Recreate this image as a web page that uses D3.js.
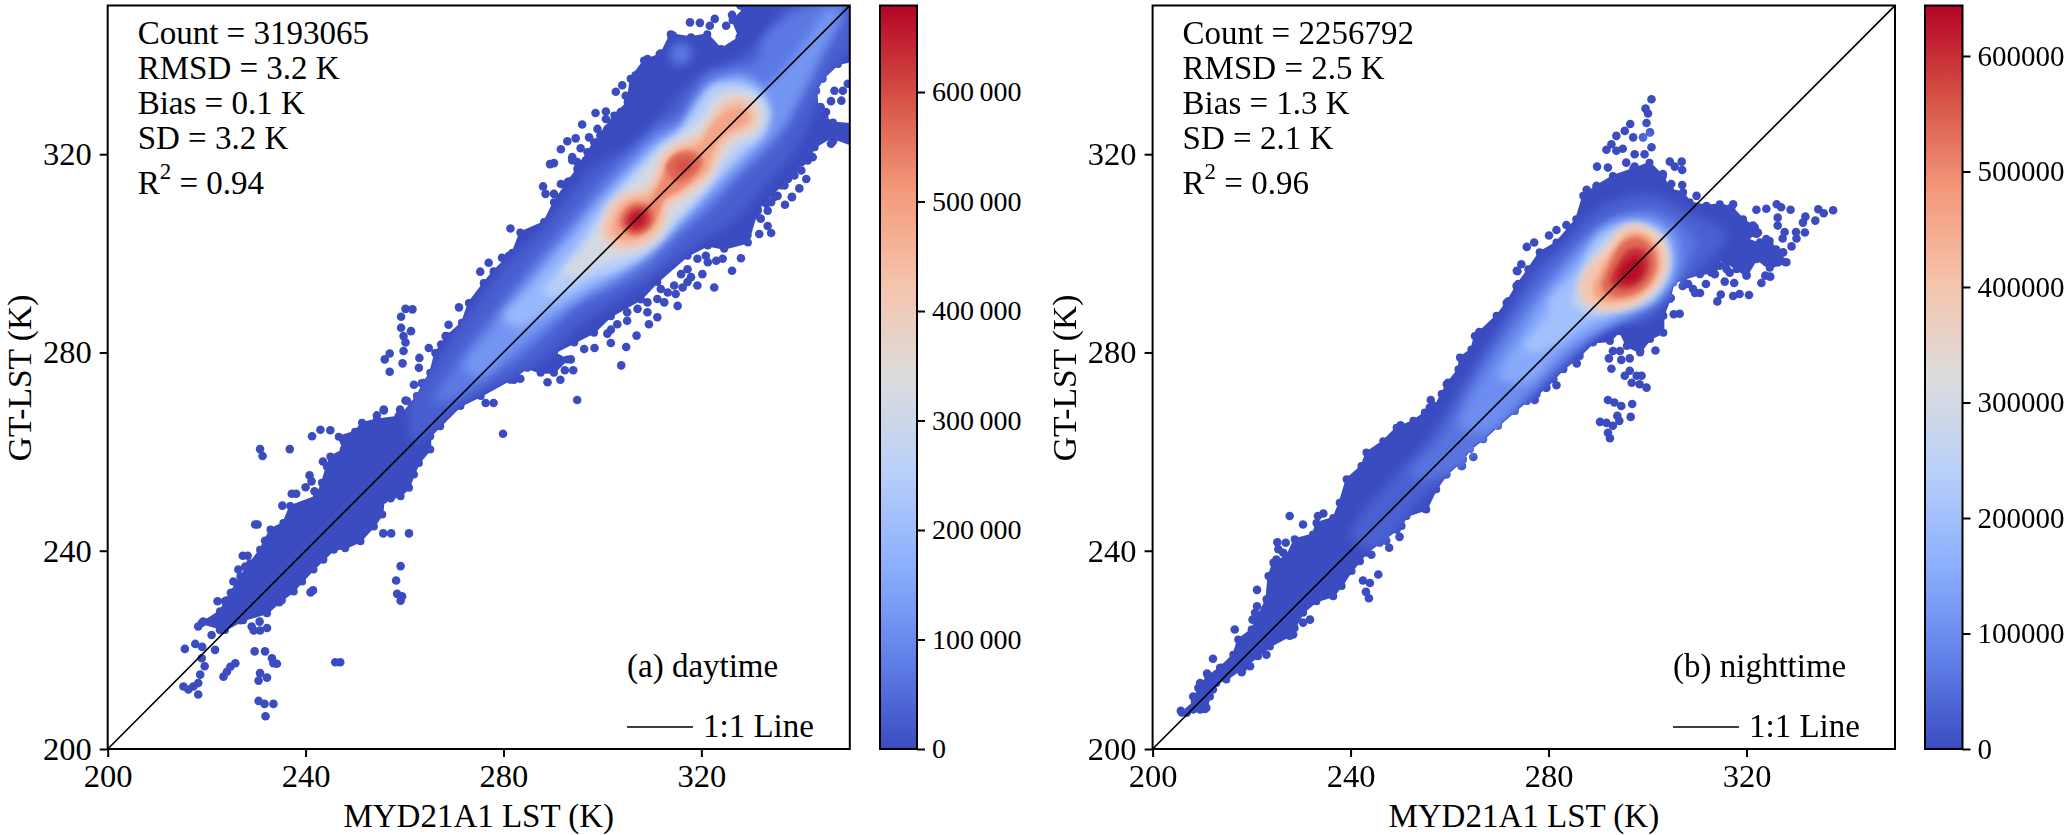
<!DOCTYPE html>
<html>
<head>
<meta charset="utf-8">
<script src="https://cdnjs.cloudflare.com/ajax/libs/d3/7.8.5/d3.min.js"></script>
<style>
  html, body { margin: 0; padding: 0; background: #fff; }
  svg { display: block; }
  text { font-family: "Liberation Serif", serif; fill: #000; }
</style>
</head>
<body>
<div id="main"></div>
<script>
// everything below is in kelvin
const axisTicks = [200, 240, 280, 320];
const oneToOne = [200, 350];
const barTicks = [0, 100000, 200000, 300000, 400000, 500000, 600000];
const coolwarmStops = ['#3b4cc0', '#6282ea', '#8db0fe', '#b9d0f9', '#dddcdc', '#f5c4ac', '#f49a7b', '#d65244', '#b40426'];

const dayStats = ['Count = 3193065', 'RMSD = 3.2 K', 'Bias = 0.1 K', 'SD = 3.2 K', '0.94'];
const nightStats = ['Count = 2256792', 'RMSD = 2.5 K', 'Bias = 1.3 K', 'SD = 2.1 K', '0.96'];

const dayOutline = [[219,225.4],[222.7,227.8],[224,230],[226.8,234.8],[228.8,237.5],[230.8,240.2],[232.9,244.3],[235.5,245.6],[236.9,249],[242.3,251],[243.3,253.7],[244.3,257],[245,259],[247.7,260.4],[246.7,263],[250,264],[251.4,265.8],[254.4,266.5],[259.2,267.1],[262.5,271.2],[263.9,273.9],[265.2,275.9],[266.2,279.9],[268.6,283.3],[271.6,286],[273,290],[276,294],[278,296.4],[281.8,300.1],[283.4,304.2],[288.2,306.3],[290.2,310.3],[292.9,314.3],[294.9,317],[298.3,322.4],[302.4,327.8],[305.1,330.5],[305.7,335.2],[308.4,338.9],[311.8,340.2],[313.8,344.2],[317.9,343.6],[321.2,344.2],[324,341.2],[327.7,343.6],[326.3,347],[328.7,349.3],[330.7,351],[351,351],[351,338.9],[347.6,338.2],[344.5,335.2],[343.2,332.8],[343.5,329.4],[344.9,327.4],[346.6,326.4],[351,326],[351,321.7],[346.2,323.4],[342.9,321.4],[341.5,318.7],[338.8,317],[336.1,313.7],[331.4,309],[329.4,302.2],[324.6,300.9],[321.3,301.6],[317.2,299.5],[311.1,294.2],[307.8,290.7],[301.7,287.3],[298.3,284],[294.3,282],[290.2,279.9],[292.9,278.6],[290.2,275.9],[287.5,275.9],[284.8,276.9],[281.4,274.5],[275.4,271.2],[271.3,269.2],[267.2,265.1],[265.2,263.1],[265.2,260.4],[262.9,257.7],[261.9,255.4],[260.9,252.7],[259.2,251],[255.8,250.3],[255.5,247.3],[253.8,244.9],[251.1,241.9],[248,240.5],[245.7,240.2],[243.6,238.2],[241.6,236.2],[239.3,233.8],[237.6,231.8],[235.2,230],[232.2,227.4],[227.4,226],[223.7,224]];

const dayDots = [[230.8,260.5],[231.3,259.1],[236.8,260.5],[241.3,263.1],[243,264.4],[245,264.3],[243.5,258],[240.8,255.2],[241.2,254],[240,252.8],[241.8,252],[237.2,251.5],[238.1,251.5],[235.3,249.1],[229.8,245.3],[230.3,245.3],[231.8,242],[227.3,239],[228.3,239],[225.4,233.8],[224.9,231.5],[222.2,229.8],[223.7,229.8],
[218.3,224.7],[219.3,225.7],[220.7,225.7],[222,225.7],[223.4,225.7],[221,223],[222.7,224],[226.8,226],[229.1,224.7],[229.5,223.9],[230.8,223.9],[232.2,224.4],[230.7,225.7],
[215.6,220.2],[217.7,221.2],[219.1,220.6],[221.7,220],[229.7,219.7],[231.8,219.7],[233.2,218.3],[234.2,217.2],[233.5,217.3],
[219,218.3],[219.6,216.7],[218.7,215],[218.3,213.3],[215.3,212.6],[216.3,212],[217.3,212.6],[218.3,211],[225.8,217.3],[224.8,216.6],[224.1,215.6],[223.4,214.6],[230.8,215.3],[232.2,214.4],[230.5,213.8],[246,217.5],[247,217.5],[230.5,209.7],[231.7,209.1],[233.5,209.1],[231.9,206.6],
[255.7,243.5],[257.3,243.5],[260.9,243.5],[259.2,236.9],[258.3,234],[258.5,231.3],[259.5,230.8],[259.2,229.9],[241,231.6],[241.5,232],
[255.8,268.5],[254.4,267.3],[259.2,268.1],[258.8,266.5],[260.5,270.2],[257.2,250.6],[253.4,245],[234.7,229.6],[226.4,236.2],[227.8,236.8],
[260.2,288.8],[261.6,288.7],[259.3,287.2],[259.3,285],[261.3,284.3],[259.8,283.3],[260.2,282],[259.8,280.3],[257,279.8],[256,278.6],[257,276.1],[259.6,277.8],[263,278.9],[262.9,276.9],[264.9,280.9],[261.9,273.5],[263.5,273.8],[260.2,270.3],[255.8,268.3],[259.1,268.5],[258.8,267.1],[261.2,268.1],
[271,289.1],[268.9,285.6],[268.3,283.3],[267.4,281.6],[275.3,296.3],[277,298.1],[279.7,299.1],[281.1,299.5],
[276.4,269.8],[278,269.8],[279.9,263.6],[294.9,270.4],[303.8,277.4],[304.8,281.1],[306.9,283.4],[301.7,281.9],[301,283.8],[301.7,284.6],[298.4,280.9],[296.3,280.7],[294.1,276.4],[292.4,276.4],[290.5,277.6],[293.6,278.6],[291.5,274.5],[288.9,274],[283.4,274.7],[282.1,274.5],
[281.4,305],[288,313.5],[288.5,312],[290.2,312],[291.6,314],[293.2,314.5],[289.4,318],[290.2,318.2],[291.6,321],[292.9,322.6],[293.9,319.4],[293.9,318.8],[295.6,321.2],[295.9,326],[299,325.1],[294.6,323.2],[297.3,323.4],[298.6,328.3],[300.7,328.6],[300.7,327.1],[302.7,332.6],[304,333.9],[303.7,328.5],[306.7,335.9],[309.1,339.2],[311.8,340.3],[310.8,338.2],[312.5,339.6],[314.2,344],
[294.9,318.4],[297,320.4],[298.3,321],[296.6,318.7],[299.6,323.8],[301,325.1],[302.4,326.5],[303.7,327.1],[305,327.8],[306.4,331.8],[307.7,335.2],[305.4,329.1],[304.7,331.8],
[322.6,293.1],[326.2,296.5],[328,299],[320.2,295.8],[320.9,299.5],[323,298.5],[324.3,298.9],[319.2,293.5],[317.2,294.2],[316.2,293.1],[317.9,295.2],[315.2,289.4],[312.5,290.1],[314.8,291.8],[311.8,292.8],[309.1,288.1],[311.1,287.1],[309.4,285.7],[305,286.4],[303,285.7],[336.9,309.8],[338.3,311.3],[333.4,305.5],[334.1,304.1],[331.7,303.9],[333.1,310],[331.4,308.6],[340.2,316.7],[341.2,315],[339.8,313.1],[336.8,313.7],[342.5,319.4],[346.2,322.1],
[326.7,304.9],[328,306.3],[329.3,307],[330.7,307.6],[326.7,302.2],[329.3,303.6],[332,307],[333.4,308.6],[335.4,311.6],[337.5,315],[340.2,318.4],[338.8,315.7],[334.1,310.3],[319.2,298.9],[321.3,298.2],[317.2,296.8],[315.9,295.8],[313.2,292.1],[314.5,293.5],[311.1,290.8],[309.1,290.1],[307.1,288.8],[305,288.1],
[346.9,332.8],[348.6,332.8],[346.2,330.7],[348.3,330.8],[345.2,328.5],[344.1,329.5],[349.6,334.2],[317.7,346.6],[319.7,346.5],[322.7,347.3],[321.7,345.9],[326.2,348.1],[325,345.9],[327.9,350],[314,343.7],[311.6,340.2],[309,339],[346.6,322.6],[338.3,311.4],[334.8,311.4]];

const dayRings = [
  [30000, [[262,262],[261,269],[267,279],[274,289],[280,297],[287,304],[292,310],[298,317],[306,322],[312,328],[318,334.5],[326,338.5],[332,343],[338,350],[351,351],[351,343],[347,337],[343,329],[339,321],[333,314],[327,307],[319,302],[311,296],[304,291],[296,286],[288,278.5],[280,274],[272,270],[266,265]]],
  [70000, [[313.8,339],[314.5,342],[317,342.3],[318,340],[316,338]]],
  [70000, [[266,270],[272,280],[279,289],[286,298],[291,304],[296,310],[302,317],[307.7,322],[311.1,325.4],[315.8,328.1],[319.2,333.5],[321.2,336.2],[326.6,337.5],[331.4,338.9],[332.7,343.6],[340,349],[349,351],[348.2,346.9],[344.2,338.9],[340.8,332.1],[336.8,325.4],[332.7,320],[328,316],[322,309],[316,304],[309,297],[302,293],[294,289],[286,281],[278,275.5],[271,271]]],
  [120000, [[272,277],[277,284],[283,292],[288,298],[294,304.5],[300,312],[305,317.5],[311,323.4],[316,326],[319,331],[323,335],[329,336],[332.5,334],[336,336.5],[341,343],[345.5,349],[348,349],[344,340],[340,332],[336,325],[331,320],[326,315],[320,309],[312,302],[304,295.5],[296,291],[288,285],[281,279.5],[275,275]]],
  [190000, [[280,287],[285,293],[290,299],[295,305],[300,311],[305,316],[311,322],[315.8,325],[319,330],[323,334],[329,335],[333,331],[333,325],[328.7,319.5],[324,315],[319,310],[313,304],[307,298.5],[301,295],[295,291.5],[288,287.5],[283,285]]],
  [250000, [[288,292],[292,297.5],[296,303],[300,309],[305,315],[311.8,322],[315.8,325],[319.2,330],[322.6,334],[330,333.5],[333.8,329.4],[332.7,324.1],[328.7,320.7],[324.6,316.6],[321.2,312.6],[315,306],[310,300.5],[304,297],[297,294.5],[291,291.5]]],
  [320000, [[292,296],[296,301],[299,305.5],[303,311],[308,316.5],[312,321],[316,323.8],[320,327.5],[323.5,332],[330,332.3],[333,328],[331,324],[327,321.7],[324,318],[320.5,313],[315,307.5],[311.5,303],[306,299.8],[300,298],[295,295.5]]],
  [390000, [[299.7,303.6],[300.3,307],[302,310.3],[305.1,312.3],[308.4,313],[310.5,315.7],[311.8,319.7],[315.2,322.4],[319.2,323.8],[321.6,327.1],[323.3,329.8],[326.7,331.8],[330,330.8],[331.7,327.8],[330.7,325.1],[328,323.8],[325.3,322.4],[323.3,319.1],[322.6,317],[319.9,313.7],[315.9,311],[313.8,309.6],[312.5,305.6],[310.4,302.9],[306.4,300.9],[302.4,301.2]]],
  [440000, [[300.7,304],[301.3,307],[303,309.8],[305.6,311.6],[308.6,312.2],[311,315],[312.5,319],[315.6,321.7],[319.4,323],[322,326.3],[323.8,329],[326.9,330.8],[329.5,330],[330.8,327.8],[329.8,325.7],[327.6,324.6],[324.6,322.8],[322.7,319],[322,317],[319.4,314.4],[315.5,311.7],[313,310],[311.8,306],[310,303.6],[306.4,301.8],[303,302]]],
  [490000, [[302,304.5],[302.5,307],[304,309.5],[306,310.8],[309,311.3],[311.5,314.5],[313.3,318.5],[316,320.8],[319.4,322],[321.6,325.3],[324,327.8],[327,329.3],[329.2,328.8],[329.8,327.2],[328,325.6],[324.6,323.8],[322,319.6],[321.2,317],[318.8,314.8],[315,312.4],[312.4,310.6],[311,306.2],[309,304],[306,302.8],[303.5,303]]],
  [530000, [[303.3,305.5],[304,308],[306,309.8],[309,310],[311.5,313.5],[313,317],[314.8,320],[318,320.8],[320.3,319.5],[319.5,316.5],[316,313],[312.5,311],[310.8,307],[308.8,304.8],[306,303.8]]],
  [570000, [[303.8,306],[304.6,308.6],[306.8,310],[309.6,309.4],[310.4,307],[308.4,304.2],[305.8,303.8]]],
  [570000, [[312.8,317.3],[314.6,319.8],[318,320.3],[320,318.6],[318,315.6],[314.8,314.4]]],
  [590000, [[314.5,317.7],[316,319],[318,319],[318,317],[316,316]]],
  [620000, [[304.6,306.3],[306,308.8],[308.8,308.9],[309.6,306.7],[308,304.8],[305.8,304.6]]],
  [660000, [[305.3,306.4],[306.8,308.3],[308.6,307.8],[308,305.8],[306.3,305.3]]]
];

const nightOutline = [[205.9,207.3],[208.5,209.6],[209.2,212.3],[211.2,214.7],[213.6,216.4],[216.3,219],[217.3,222.1],[220,224.1],[221.3,226.8],[223,230.2],[223.4,234.9],[224.4,237.6],[227.1,238.9],[228.7,242.3],[232.4,243.3],[233.1,245.6],[236.5,246.6],[237.8,249.7],[239.2,254.4],[242.2,257.1],[243.2,259.8],[246.6,262.1],[249.3,264.8],[252.7,266.2],[255,267.9],[257.1,269.2],[258.4,271.6],[259.4,273.6],[261.8,276.6],[262.1,279],[264.4,280.6],[265.1,283.3],[269.5,287.4],[271.5,290],[273.5,293.4],[275.9,296.8],[278.2,300.2],[281.6,302.2],[285.6,306.9],[287,311.6],[289.7,313.6],[293,315.6],[297.1,317],[300.4,318.3],[303.1,315.6],[304.5,312.9],[307.2,312.3],[308.5,310.3],[311.9,309.6],[314.6,309.9],[317,309.3],[319.3,306.9],[321.7,305.2],[322,303.9],[320,302.9],[322.7,301.9],[324.7,302.5],[326,300.8],[328.1,298.2],[324.7,297.1],[322,298.8],[320,295.5],[318,296.8],[316,298.2],[314,298.8],[312.9,296.1],[310.6,295.8],[307.2,294.8],[305.2,294.1],[304.5,290.8],[303.2,287.4],[303.2,284],[300.5,282.7],[298.5,280],[295.8,281.3],[294.4,284.3],[292.4,282.3],[289,282],[286.3,279.3],[283,276.6],[281,274.6],[279.6,272.9],[277.6,271.6],[275.6,270.2],[273.2,268.2],[269.8,265.2],[266.8,262.5],[264.1,260.5],[262.7,258.4],[259.4,255.4],[257.3,252.4],[255.3,248.3],[251.3,247],[250.3,245],[245.9,241.6],[243.2,239.6],[241.9,237.9],[240.2,235.9],[238.2,232.9],[236.5,230.8],[233.1,229.8],[230.4,227.5],[228.7,224.4],[227.7,222.8],[223.7,220.7],[221.3,218.7],[218.3,216.4],[214.9,214],[212.9,213.3],[211.6,210.6],[210.9,208.3]];

const nightDots = [[205.7,207.7],[206.9,207.3],[208.2,208],[209.6,208],[210.6,208.1],[208.2,210.6],[209.6,213.3],[211,215.2],[212.2,218.2],[216.6,224.1],[221.1,232.1],[227.7,247],[230.4,245.3],[233.4,247],[234.5,247.5],[225.2,241.7],[226.9,241.6],[225.4,240.3],[226.4,239.6],[225,238.2],[221.1,228.8],[220.7,227.5],[220.2,226.1],[212.2,212],[210.2,212],[213.9,216.4],[218,215.5],[219.7,216.7],[223,219],[228.4,223.1],[231.8,226.1],[230.4,225.5],
[242.5,234],[243.9,233.5],[245.6,235.2],[243.1,231.7],[243.7,230.4],[244.2,239.2],[247.8,240.6],[247.2,242],[249.9,242.8],[249.3,244.3],[255,248.5],[262.5,257.1],[259,255.4],
[256.2,270.4],[256,268.9],[250.1,265.3],[259.7,273.9],[262.4,278.8],[266,284.1],[271.9,290.3],[273.7,296.4],[273.9,293.8],[262.4,257.1],[264.8,258.9],[277.2,270.4],[279.5,272.9],[281.6,273.4],[285.7,277.8],
[292.7,276.7],[292.2,278.8],[293,280.3],[294.4,280.3],[294.7,278.5],[296.4,278.8],[295.4,275.3],[296.8,273.9],[297.8,275.3],[296.4,276.3],[298.4,273.6],[292,270.4],[293.3,269.9],[294.7,269.2],[296.9,269.6],[296.6,267],[290.4,266],[291.7,265.8],[293.9,267.2],[294.3,266.2],[293,265.2],[292,263.8],[292.4,262.7],[298.8,275.3],[299.8,272.9],[301.6,280.4],[298.5,280.3],[306.5,287.8],[305.3,287.7],[304.7,291],[309.6,292],[310.6,292],[311.8,293.8],[309.2,292.8],[307.1,293.4],[308.2,293.8],
[314.1,290.3],[314.8,291.7],[317.3,291.4],[318.6,291.8],[320.5,291.6],[317.5,294],[315.6,294.3],[313.6,295.8],[316.6,296.1],[320,295.6],[323,294],[323.8,295.5],[324.8,295.3],[327.9,298.2],[326.4,298.2],[324.7,297.5],[327.4,300.2],[329.1,301.4],[330.1,303],[330,304.3],[331.8,304.2],[327.3,303],[327.7,304.3],[326.3,305.6],[326.3,307.2],[326.1,309.9],[328.9,308.8],[324,309],[322,308.8],[327,309.3],[331.4,306.2],[331.9,307.4],[333.9,306.6],[334.5,308.9],[335.6,308.1],[337.5,308.7],[317.3,309.9],[322.3,304.2],[321.3,305.6],[324,302.9],[322.7,302.2],[326.1,300.5],[309.9,311.6],
[320,301.5],[318.6,299.5],[320.7,298.8],[323.4,300.2],[325.4,299.5],[324,298.2],[322,300.8],[317.3,298.2],[316,296.8],[314.6,297.5],[313.3,296.8],[313.6,297.8],
[300.8,331.1],[299.6,329.2],[300.1,328.2],[299.8,326.3],[300.5,324.4],[299.1,323.4],[296.5,326.1],[295.4,324.7],[293.7,323.7],[297.1,323.4],[292.7,322],[291.7,320.9],[293.7,320.7],[295,321.1],[300.8,321.4],[299.4,320],[297.4,320],[295.7,318.3],[289.8,317.5],[292,317.3],[304.5,318.5],[306.9,318.5],[305.5,317.5],[307,316.8],[304.8,314],[307,313.8],[297.4,317.5],[303.1,316],
[287.7,312.8],[289.7,313.6],[281.6,304.7],[280.1,303.6],[283.6,305.7],[277.1,302.2],[275.6,301.3],[274.5,297.8],[273.6,296.5],[278.9,299.8]];

const nightRings = [
  [30000, [[240,243],[247,253],[256,263],[263,274],[270,285],[277,296],[283,302],[290,309],[300,312],[309,308],[316,304],[312,298],[306,293],[303,289],[299,286],[293,286],[287,281],[280,274],[272,267],[263,258],[254,250],[245,240]]],
  [70000, [[298.3,322.6],[299.2,325],[301,324.6],[301,322.7]]],
  [60000, [[252,255],[259,264],[265,275],[271,284],[278,294],[285,301],[291,306],[300,309],[307,306],[310,302],[307,296],[303,291],[299,288],[292,285.5],[285,280],[278,273],[270,265],[261,256]]],
  [100000, [[262,265],[268,277],[274,286],[281,295],[287,302],[294,307],[301,307.5],[306,304],[306.5,297],[303,291.5],[297,287.5],[289,283.5],[282,278],[275,271],[268,264]]],
  [150000, [[270,275],[275,284],[280,292],[287,300],[292,305.5],[300,306.7],[305,303],[305,296],[301,290.5],[294,287],[288,284],[282,280],[276,274]]],
  [200000, [[275,281],[280,288],[280,290],[286,297],[290,303.5],[297,306],[303,304],[304.6,297],[301,290.5],[294,288],[288,286],[282,282],[277,280]]],
  [260000, [[285,290],[287,297],[291,302.5],[297,305.8],[303,303.5],[304.5,297],[301,291],[294,288.5],[289,287.5]]],
  [340000, [[286.5,292],[288,296.5],[292,301.5],[295,305],[298.4,305.7],[302.8,303],[304,298.5],[303,295],[299.5,291],[294.5,289],[289,289.5]]],
  [400000, [[286.3,293.4],[287.7,296.8],[291.7,300.8],[294.4,304.5],[298.4,305.5],[302.5,302.8],[303.8,299.5],[303.1,295.4],[299.8,291.4],[294.4,288.7],[288.3,289.4]]],
  [470000, [[289,292.5],[290.5,296.5],[293,300.5],[296,303.8],[299,304],[301.8,301.5],[302.6,298],[301.7,295],[298.7,291.7],[294,290.2],[290.5,290.5]]],
  [540000, [[290.8,293],[292.3,297.8],[295,302.2],[298,303.2],[301,301],[301.7,297.5],[300.2,294],[297,291.7],[292.8,291.3]]],
  [600000, [[292.5,294],[294.2,298.3],[296.7,301],[299.4,300.5],[300.3,297.4],[298.7,294.2],[295.5,292.8]]],
  [640000, [[294,295],[295.7,298.3],[298,299.3],[299,297],[297.6,294.6],[295.7,294]]]
];

const width = 2067;
const height = 835;
const plotBottom = 749;
const plotTop = 5.5;

const svg = d3.select('#main').append('svg').attr('width', width).attr('height', height)
const defs = svg.append('defs')

const blurs = [{id: 'blurWide', sd: 5}, {id: 'blurMid', sd: 3.5}, {id: 'blurFine', sd: 2}]
blurs.forEach((b) => {
  defs.append('filter').attr('id', b.id)
    .attr('x', '-30%').attr('y', '-30%').attr('width', '160%').attr('height', '160%')
    .append('feGaussianBlur').attr('stdDeviation', b.sd)
})

const grad = defs.append('linearGradient').attr('id', 'coolwarm')
  .attr('x1', 0).attr('y1', 1).attr('x2', 0).attr('y2', 0)
coolwarmStops.forEach((c, i) => {
  grad.append('stop').attr('offset', i / (coolwarmStops.length - 1)).attr('stop-color', c)
})

function drawPanel(p) {
  const x = d3.scaleLinear().domain(oneToOne).range([p.left, p.right])
  const y = d3.scaleLinear().domain(oneToOne).range([plotBottom, plotTop])
  const c = d3.scaleLinear()
    .domain(coolwarmStops.map((_, i) => p.max * i / (coolwarmStops.length - 1)))
    .range(coolwarmStops)
  const blue = coolwarmStops[0]

  defs.append('clipPath').attr('id', p.id + 'Clip').append('rect')
    .attr('x', p.left).attr('y', plotTop).attr('width', p.right - p.left).attr('height', plotBottom - plotTop)

  const plot = svg.append('g').attr('clip-path', `url(#${p.id}Clip)`)
  const line = d3.line().x((d) => x(d[0])).y((d) => y(d[1]))
  const ringLine = d3.line().x((d) => x(d[0])).y((d) => y(d[1])).curve(d3.curveCatmullRomClosed.alpha(0.5))

  plot.append('path').attr('d', line(p.outline) + 'Z').attr('fill', blue)
    .attr('stroke', blue).attr('stroke-width', 2).attr('stroke-linejoin', 'round')

  plot.selectAll('circle.edge').data(p.outline).enter().append('circle').attr('class', 'edge')
    .attr('cx', (d) => x(d[0])).attr('cy', (d) => y(d[1])).attr('r', 4).attr('fill', blue)
  plot.selectAll('circle.dot').data(p.dots).enter().append('circle').attr('class', 'dot')
    .attr('cx', (d) => x(d[0])).attr('cy', (d) => y(d[1])).attr('r', 4.3).attr('fill', blue)

  // the density rings must stay inside the cloud
  const body = defs.append('clipPath').attr('id', p.id + 'Body')
  body.append('path').attr('d', line(p.outline) + 'Z')
  body.selectAll('circle').data(p.outline.concat(p.dots)).enter().append('circle')
    .attr('cx', (d) => x(d[0])).attr('cy', (d) => y(d[1])).attr('r', 4)

  plot.append('g').attr('clip-path', `url(#${p.id}Body)`)
    .selectAll('path.ring').data(p.rings).enter().append('path').attr('class', 'ring')
    .attr('d', (d) => ringLine(d[1]))
    .attr('fill', (d) => c(d[0]))
    .attr('filter', (d) => d[0] < 200000 ? 'url(#blurWide)' : d[0] < 450000 ? 'url(#blurMid)' : 'url(#blurFine)')

  // 1:1 line
  plot.append('line').attr('x1', x(oneToOne[0])).attr('y1', y(oneToOne[0]))
    .attr('x2', x(oneToOne[1])).attr('y2', y(oneToOne[1]))
    .attr('stroke', '#000').attr('stroke-width', 1.6)

  svg.append('rect').attr('x', p.left).attr('y', plotTop).attr('width', p.right - p.left).attr('height', plotBottom - plotTop)
    .attr('fill', 'none').attr('stroke', '#000').attr('stroke-width', 2)

  const xAxis = d3.axisBottom(x).tickValues(axisTicks).tickSize(8).tickPadding(7)
  const yAxis = d3.axisLeft(y).tickValues(axisTicks).tickSize(8).tickPadding(8)
  const gx = svg.append('g').attr('transform', `translate(0,${plotBottom})`).call(xAxis)
  const gy = svg.append('g').attr('transform', `translate(${p.left},0)`).call(yAxis)
  ;[gx, gy].forEach((g) => {
    g.select('.domain').remove()
    g.selectAll('line').attr('stroke', '#000').attr('stroke-width', 2)
    g.selectAll('text').style('font-family', '"Liberation Serif", serif').style('font-size', '32.5px').attr('fill', '#000')
  })

  svg.append('text').attr('x', (p.left + p.right) / 2).attr('y', 827).attr('text-anchor', 'middle')
    .style('font-size', '33px').text('MYD21A1 LST (K)')
  svg.append('text').attr('transform', `translate(${p.labelX},378) rotate(-90)`).attr('text-anchor', 'middle')
    .style('font-size', '33.5px').text('GT-LST (K)')

  // stats block
  const statY = [43.5, 78.5, 113.5, 148.5]
  statY.forEach((yy, i) => {
    svg.append('text').attr('x', p.left + 30).attr('y', yy).style('font-size', '33px').text(p.stats[i])
  })
  const r2 = svg.append('text').attr('x', p.left + 30).attr('y', 194).style('font-size', '33px')
  r2.append('tspan').text('R')
  r2.append('tspan').attr('dy', -15).style('font-size', '23px').text('2')
  r2.append('tspan').attr('dy', 15).text(' = ' + p.stats[4])

  svg.append('text').attr('x', p.tagX).attr('y', 677).style('font-size', '33px').text(p.tag)
  svg.append('line').attr('x1', p.tagX).attr('x2', p.tagX + 66).attr('y1', 727).attr('y2', 727)
    .attr('stroke', '#000').attr('stroke-width', 1.6)
  svg.append('text').attr('x', p.tagX + 76).attr('y', 737).style('font-size', '33px').text('1:1 Line')

  // colour bar
  const b = d3.scaleLinear().domain([0, p.max]).range([plotBottom, plotTop])
  svg.append('rect').attr('x', p.barLeft).attr('y', plotTop).attr('width', p.barRight - p.barLeft).attr('height', plotBottom - plotTop)
    .attr('fill', 'url(#coolwarm)').attr('stroke', '#000').attr('stroke-width', 2)
  const gb = svg.append('g').attr('transform', `translate(${p.barRight},0)`)
    .call(d3.axisRight(b).tickValues(barTicks).tickSize(8).tickPadding(7).tickFormat(p.barFormat))
  gb.select('.domain').remove()
  gb.selectAll('line').attr('stroke', '#000').attr('stroke-width', 2)
  gb.selectAll('text').style('font-family', '"Liberation Serif", serif').style('font-size', p.barFont).attr('fill', '#000')
}

drawPanel({
  id: 'day', left: 107.7, right: 849.8, max: 679000, barLeft: 880, barRight: 917, labelX: 31, tagX: 627,
  outline: dayOutline, dots: dayDots, rings: dayRings, stats: dayStats, tag: '(a) daytime', barFont: '28px',
  barFormat: (d) => d === 0 ? '0' : (d / 1000) + '\u2009000'
})
drawPanel({
  id: 'night', left: 1152.6, right: 1895, max: 643700, barLeft: 1925, barRight: 1962.5, labelX: 1076, tagX: 1673,
  outline: nightOutline, dots: nightDots, rings: nightRings, stats: nightStats, tag: '(b) nighttime', barFont: '29px',
  barFormat: (d) => String(d)
})
</script>
</body>
</html>
